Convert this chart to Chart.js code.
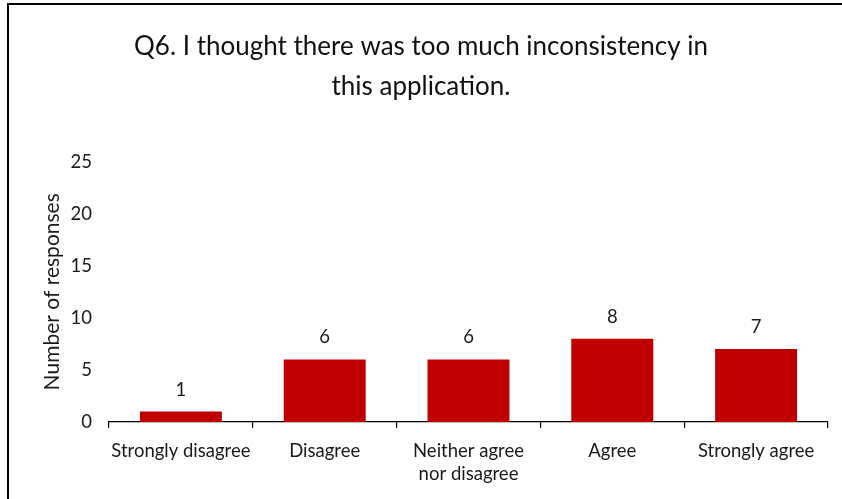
<!DOCTYPE html>
<html>
<head>
<meta charset="utf-8">
<script src="https://cdn.jsdelivr.net/npm/chart.js@4/dist/chart.umd.min.js"></script>
<style>
  html, body { margin: 0; padding: 0; background: #fff; }
  #wrap { position: relative; width: 842px; height: 499px; overflow: hidden; }
  #frame { position: absolute; left: 7px; top: 3px; right: -5px; bottom: -5px;
           border-top: 2.5px solid #000; border-left: 2.5px solid #000; pointer-events: none; }
  canvas { position: absolute; left: 0; top: 0; }
</style>
</head>
<body>
<div id="wrap">
  <canvas id="chart" width="842" height="499"></canvas>
  <div id="frame"></div>
</div>
<script>
const categories = [['Strongly disagree'], ['Disagree'], ['Neither agree', 'nor disagree'], ['Agree'], ['Strongly agree']];
const responses = [1, 6, 6, 8, 7];
const yTicks = [0, 5, 10, 15, 20, 25];

const FONT = 'Lato, "Open Sans", sans-serif';

// etiquetas de valor encima de cada barra
const valueLabels = {
    id: 'valueLabels',
    afterDatasetsDraw(chart) {
        const ctx = chart.ctx;
        const meta = chart.getDatasetMeta(0);
        ctx.save();
        ctx.font = '18.5px ' + FONT;
        ctx.fillStyle = '#1a1a1a';
        ctx.textAlign = 'center';
        ctx.textBaseline = 'middle';
        meta.data.forEach((bar, i) => {
            ctx.fillText(String(responses[i]), bar.x, bar.y - 22);
        });
        ctx.restore();
    }
};

const ctx = document.getElementById('chart').getContext('2d');
new Chart(ctx, {
    type: 'bar',
    data: {
        labels: categories,
        datasets: [{
            label: 'Responses',
            data: responses,
            backgroundColor: '#C00000',
            borderWidth: 0,
            barPercentage: 0.57,
            categoryPercentage: 1.0
        }]
    },
    options: {
        responsive: false,
        animation: false,
        layout: { padding: { top: 0, right: 14, bottom: 0, left: 14 } },
        scales: {
            x: {
                offset: true,
                border: { display: true, color: '#000', width: 1.2 },
                grid: { display: true, drawOnChartArea: false, offset: true, color: '#000', tickLength: 6, lineWidth: 1.2 },
                ticks: { color: '#1a1a1a', font: { family: FONT, size: 18.5, lineHeight: 1.25 }, maxRotation: 0, padding: 11 },
                afterFit(scale) { scale.height = 77; }
            },
            y: {
                min: 0,
                max: 25,
                border: { display: false },
                grid: { display: false },
                afterBuildTicks(scale) { scale.ticks = yTicks.map(v => ({ value: v })); },
                ticks: { color: '#1a1a1a', font: { family: FONT, size: 18.5 }, padding: 9 },
                title: { display: true, text: 'Number of responses', color: '#1a1a1a', font: { family: FONT, size: 21 }, padding: { top: 26, bottom: 4 } },
                afterFit(scale) { scale.width = 95; }
            }
        },
        plugins: {
            legend: { display: false },
            tooltip: { enabled: false },
            title: {
                display: true,
                text: ['Q6. I thought there was too much inconsistency in', 'this application.'],
                color: '#111',
                font: { family: FONT, size: 26, weight: 'normal', lineHeight: 1.55 },
                padding: { top: 26, bottom: 55 }
            }
        }
    },
    plugins: [valueLabels]
});
</script>
</body>
</html>
